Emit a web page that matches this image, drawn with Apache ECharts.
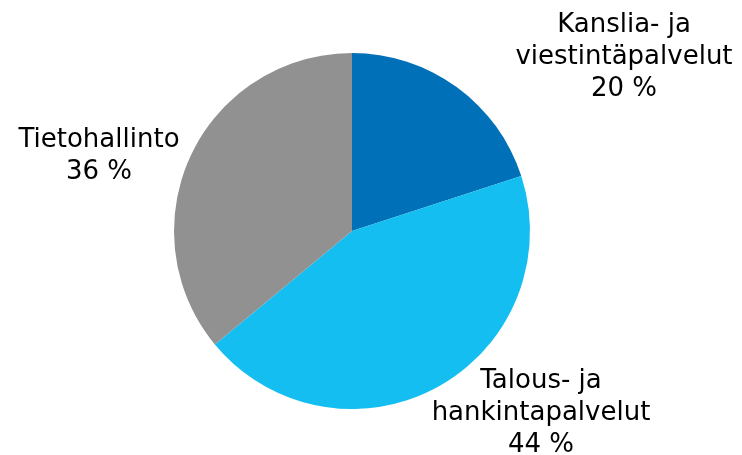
<!DOCTYPE html>
<html>
<head>
<meta charset="utf-8">
<script src="https://cdn.jsdelivr.net/npm/echarts@6/dist/echarts.min.js"></script>
<style>html,body{margin:0;padding:0;background:#fff;}#c{width:742px;height:455px;}</style>
</head>
<body>
<div id="c"></div>
<script>
const categories = ['Kanslia- ja\nviestintäpalvelut', 'Talous- ja\nhankintapalvelut', 'Tietohallinto'];
const values = [20, 44, 36];
const colors = ['#0070B8', '#15BEF0', '#919191'];
const labelPos = [[624, 57], [541, 413], [99, 156]];

const chart = echarts.init(document.getElementById('c'), null, {renderer: 'canvas'});
chart.setOption({
  animation: false,
  series: [{
    type: 'pie',
    center: [352, 231],
    radius: 178,
    startAngle: 90,
    clockwise: true,
    data: categories.map((n, i) => ({name: n, value: values[i], itemStyle: {color: colors[i]}})),
    label: {
      show: true,
      position: 'outside',
      formatter: '{b}\n{c} %',
      fontFamily: 'DejaVu Sans',
      fontSize: 26,
      lineHeight: 32,
      color: '#000',
      align: 'center',
      overflow: 'none',
      width: 300
    },
    labelLine: {show: false},
    labelLayout: function (p) {
      const pos = labelPos[p.dataIndex];
      return {x: pos[0], y: pos[1], align: 'center', verticalAlign: 'middle'};
    }
  }]
});
</script>
</body>
</html>
